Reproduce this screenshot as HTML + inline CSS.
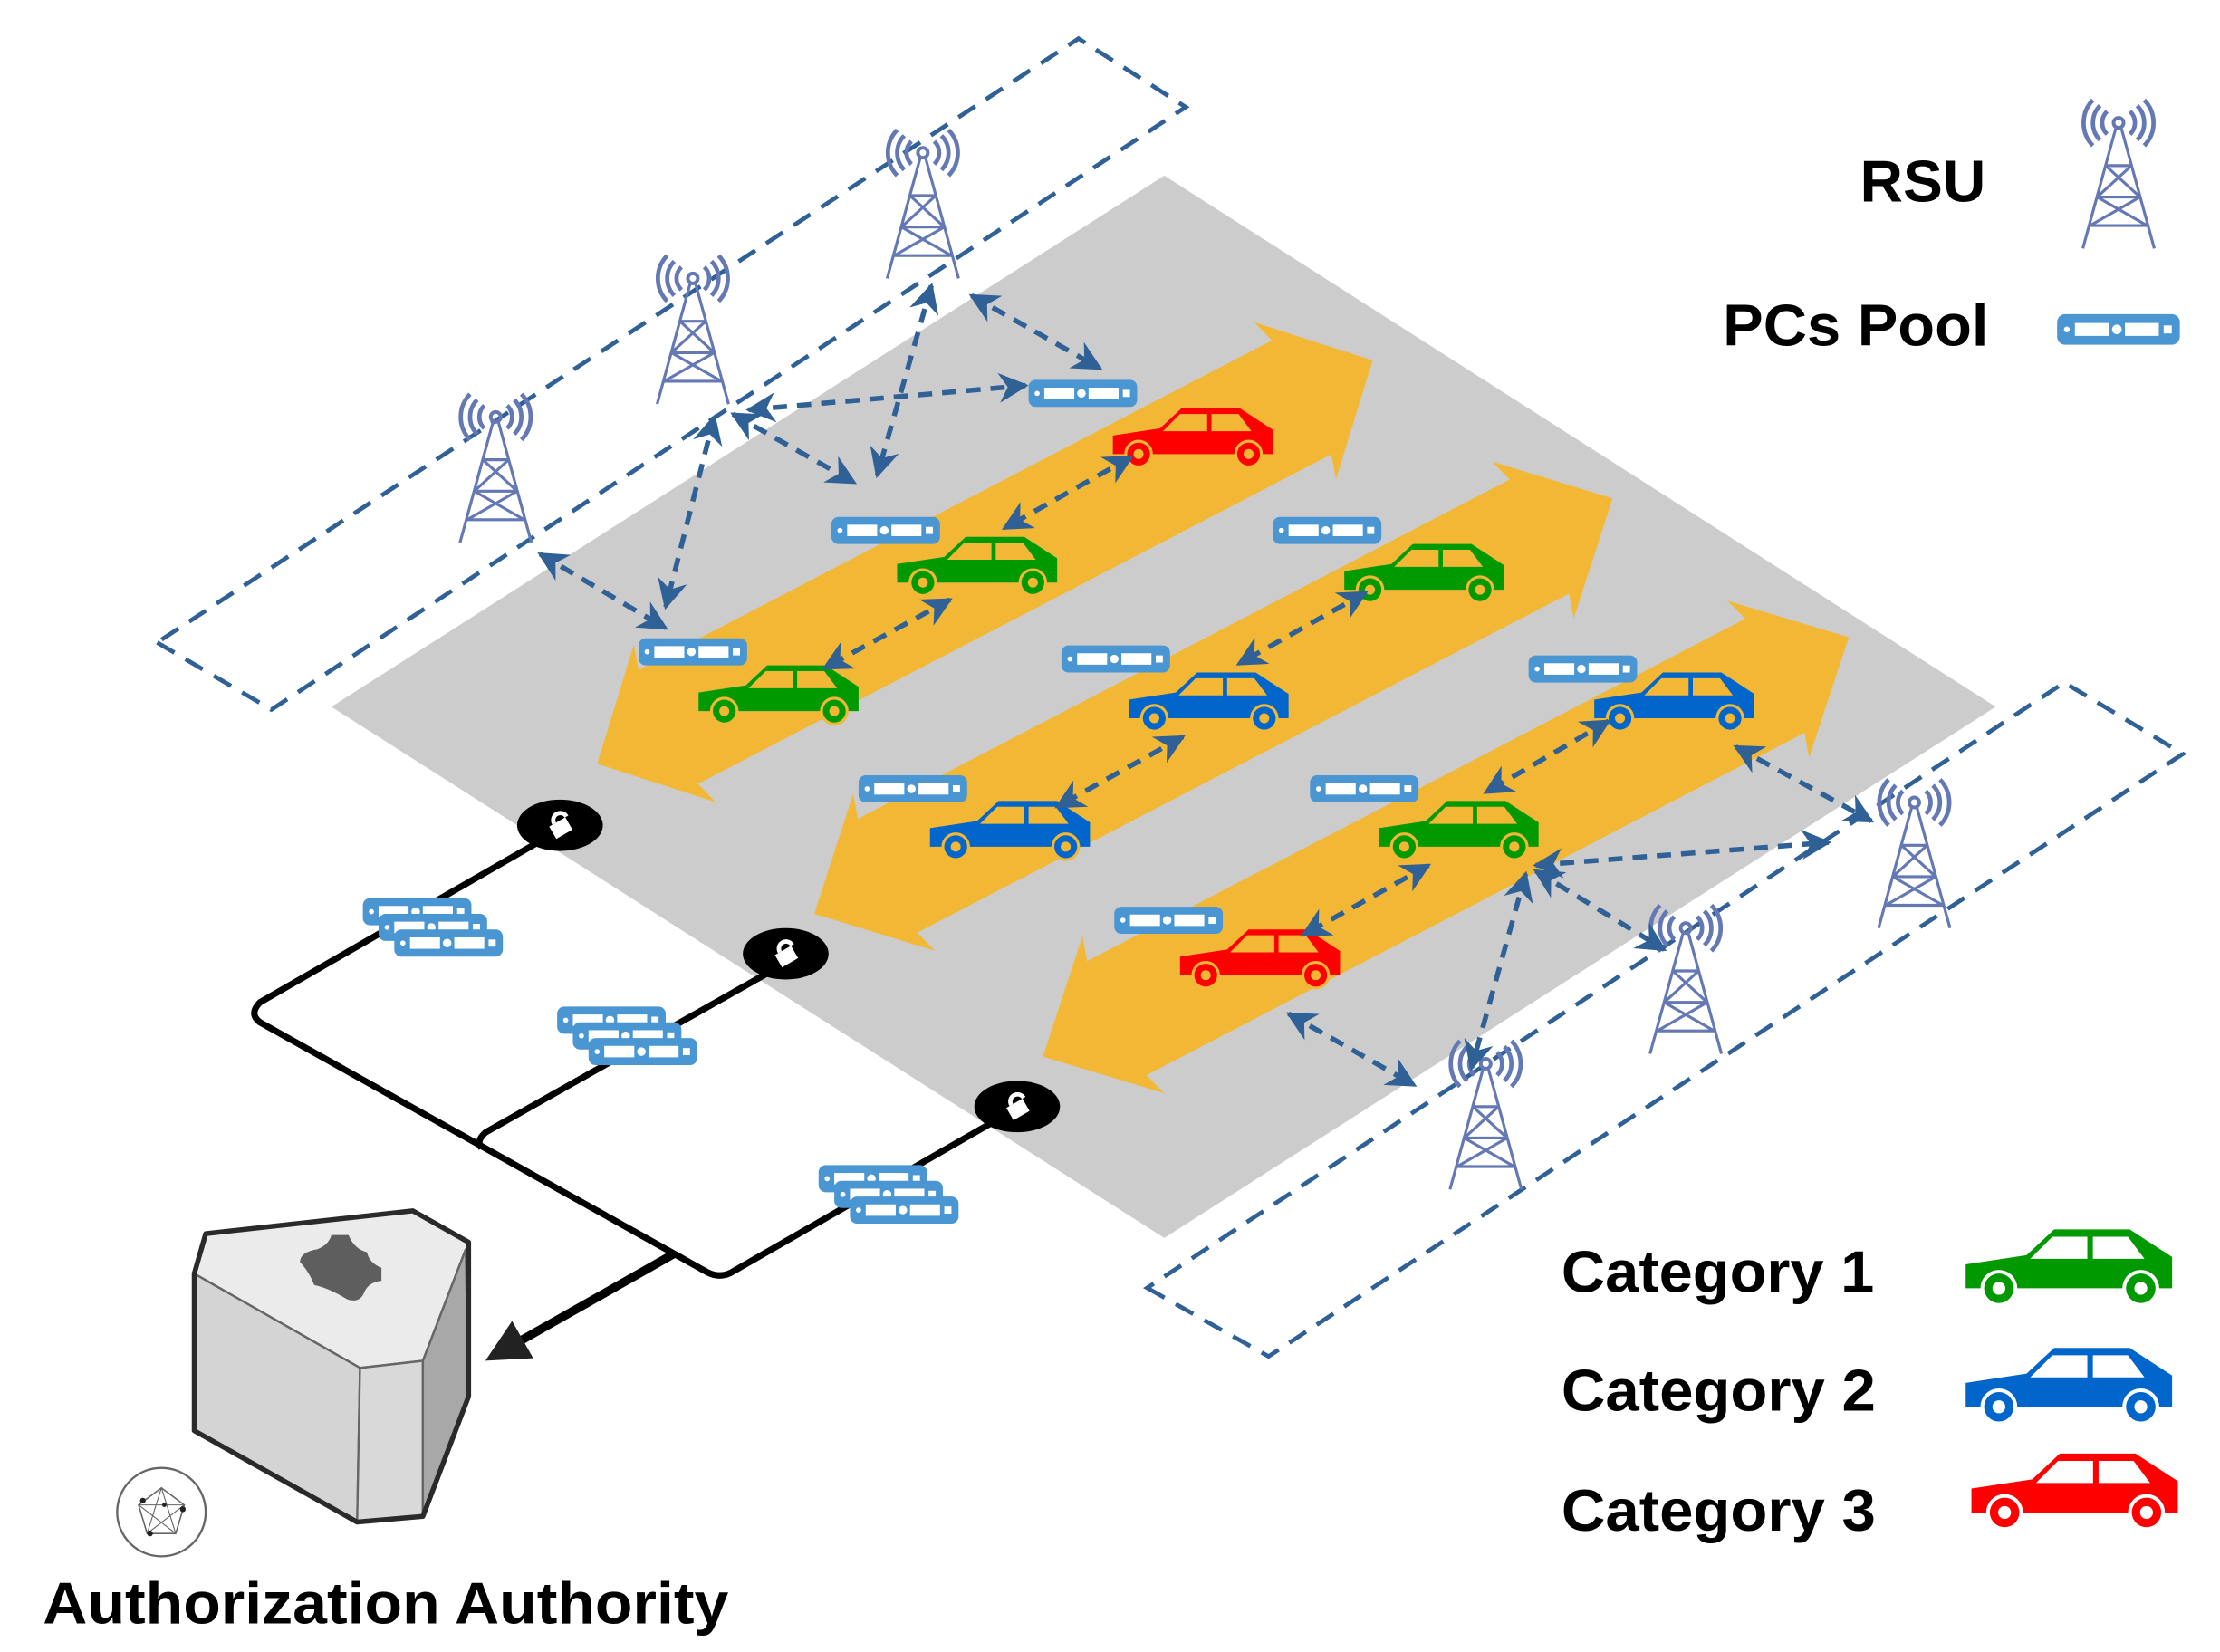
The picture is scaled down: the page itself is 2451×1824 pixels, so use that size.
<!DOCTYPE html>
<html><head><meta charset="utf-8"><style>
html,body{margin:0;padding:0;background:#fff;}
svg{display:block;}
text{font-family:"Liberation Sans",Arial,sans-serif;font-weight:bold;fill:#000;}
</style></head><body>
<svg width="2451" height="1824" viewBox="0 0 1554 1157" preserveAspectRatio="none" xmlns="http://www.w3.org/2000/svg">
<defs>
<marker id="ah" viewBox="0 0 10 10" refX="9" refY="5" markerWidth="6" markerHeight="6" orient="auto-start-reverse" markerUnits="strokeWidth">
<path d="M0,0 L10,5 L0,10 L3,5 Z" fill="#2f6096"/></marker>
<marker id="bh" viewBox="0 0 10 10" refX="8" refY="5" markerWidth="5" markerHeight="5" orient="auto" markerUnits="strokeWidth">
<path d="M0,0 L10,5 L0,10 Z" fill="#222"/></marker>
<g id="tower" stroke="#6478b4" fill="none" stroke-width="2">
<circle cx="0" cy="0" r="3.5" stroke-width="2.5"/>
<path d="M-2,4 L-25,88 M2,4 L25,88 M-9,30 L9,30 M-15,52 L15,52 M-9,30 L15,52 M9,30 L-15,52 M-15,52 L20,72 M15,52 L-20,72 M-20,72 L20,72"/>
<path d="M-8,-8 A11,11 0 0 0 -8,8 M-13,-12 A17,17 0 0 0 -13,12 M-18,-16 A23,23 0 0 0 -18,16 M8,-8 A11,11 0 0 1 8,8 M13,-12 A17,17 0 0 1 13,12 M18,-16 A23,23 0 0 1 18,16" stroke-width="3"/>
</g>
<g id="pc">
<rect x="0" y="0" width="76" height="19" rx="5" fill="#4a96d2"/>
<circle cx="6" cy="9.5" r="1.8" fill="#fff"/>
<rect x="11" y="5.5" width="21" height="8" fill="#fff"/>
<circle cx="37" cy="9.5" r="3" fill="#fff"/>
<rect x="42" y="5.5" width="21" height="8" fill="#fff"/>
<rect x="66" y="7" width="5" height="5" fill="#fff"/>
</g>
<g id="pcs">
<use href="#pc" x="0" y="0"/><use href="#pc" x="11" y="11"/><use href="#pc" x="22" y="22"/>
</g>
<g id="lock">
<ellipse cx="0" cy="0" rx="30" ry="18" fill="#000"/>
<rect x="-7" y="-3" width="13" height="10" fill="#fff" transform="rotate(-30)"/>
<path d="M-3,-3 A5,5 0 0 1 7,-3" stroke="#fff" stroke-width="3" fill="none" transform="rotate(-30)"/>
</g>
<path id="road" d="M0,0 L60,-62 L55,-45 L545,-45 L540,-62 L600,0 L540,62 L545,45 L55,45 L60,62 Z"/>
</defs>

<polygon points="815,123 1397,495 815,867 232,495" fill="#cccccc"/>

<g fill="#f2b835">
<use href="#road" transform="translate(418,535) rotate(-27.5) scale(1.02,1)"/>
<use href="#road" transform="translate(570,640) rotate(-27.5) scale(1.05,1)"/>
<use href="#road" transform="translate(730,740) rotate(-27.5) scale(1.06,1)"/>
</g>

<g fill="none" stroke="#2f6096" stroke-width="3" stroke-dasharray="14 9">
<polygon points="110,450 190,497 830,75 755,27"/>
<polygon points="803,902 888,950 1528,528 1445,478"/>
</g>

<use href="#tower" x="347" y="292"/>
<use href="#tower" x="485" y="195"/>
<use href="#tower" x="646" y="107"/>
<use href="#tower" x="1340" y="562"/>
<use href="#tower" x="1180" y="650"/>
<use href="#tower" x="1040" y="745"/>
<use href="#tower" x="1483" y="86"/>

<use href="#pc" x="720" y="266"/>
<use href="#pc" x="582" y="362"/>
<use href="#pc" x="447" y="447"/>
<use href="#pc" x="891" y="362"/>
<use href="#pc" x="743" y="452"/>
<use href="#pc" x="601" y="543"/>
<use href="#pc" x="1070" y="459"/>
<use href="#pc" x="917" y="543"/>
<use href="#pc" x="780" y="635"/>
<use href="#pc" transform="translate(1440,220) scale(1.13)"/>

<g>
<g transform="translate(779,286)" fill="#ff0000">
<path d="M0,19 L33,14 L48,0 L89,0 L112,15 L112,32 L0,32 Z"/><path d="M35,16 L47,4 L66,4 L66,16 Z M69,4 L88,4 L97,16 L69,16 Z" fill="#f2b835"/>
<circle cx="18" cy="32" r="10" fill="#f2b835"/><circle cx="95" cy="32" r="10" fill="#f2b835"/>
<circle cx="18" cy="32" r="8"/><circle cx="95" cy="32" r="8"/><circle cx="18" cy="32" r="3.5" fill="#f2b835"/><circle cx="95" cy="32" r="3.5" fill="#f2b835"/></g>
<g transform="translate(628,376)" fill="#009900">
<path d="M0,19 L33,14 L48,0 L89,0 L112,15 L112,32 L0,32 Z"/><path d="M35,16 L47,4 L66,4 L66,16 Z M69,4 L88,4 L97,16 L69,16 Z" fill="#f2b835"/>
<circle cx="18" cy="32" r="10" fill="#f2b835"/><circle cx="95" cy="32" r="10" fill="#f2b835"/>
<circle cx="18" cy="32" r="8"/><circle cx="95" cy="32" r="8"/><circle cx="18" cy="32" r="3.5" fill="#f2b835"/><circle cx="95" cy="32" r="3.5" fill="#f2b835"/></g>
<g transform="translate(489,466)" fill="#009900">
<path d="M0,19 L33,14 L48,0 L89,0 L112,15 L112,32 L0,32 Z"/><path d="M35,16 L47,4 L66,4 L66,16 Z M69,4 L88,4 L97,16 L69,16 Z" fill="#f2b835"/>
<circle cx="18" cy="32" r="10" fill="#f2b835"/><circle cx="95" cy="32" r="10" fill="#f2b835"/>
<circle cx="18" cy="32" r="8"/><circle cx="95" cy="32" r="8"/><circle cx="18" cy="32" r="3.5" fill="#f2b835"/><circle cx="95" cy="32" r="3.5" fill="#f2b835"/></g>
<g transform="translate(941,381)" fill="#009900">
<path d="M0,19 L33,14 L48,0 L89,0 L112,15 L112,32 L0,32 Z"/><path d="M35,16 L47,4 L66,4 L66,16 Z M69,4 L88,4 L97,16 L69,16 Z" fill="#f2b835"/>
<circle cx="18" cy="32" r="10" fill="#f2b835"/><circle cx="95" cy="32" r="10" fill="#f2b835"/>
<circle cx="18" cy="32" r="8"/><circle cx="95" cy="32" r="8"/><circle cx="18" cy="32" r="3.5" fill="#f2b835"/><circle cx="95" cy="32" r="3.5" fill="#f2b835"/></g>
<g transform="translate(790,471)" fill="#0066cc">
<path d="M0,19 L33,14 L48,0 L89,0 L112,15 L112,32 L0,32 Z"/><path d="M35,16 L47,4 L66,4 L66,16 Z M69,4 L88,4 L97,16 L69,16 Z" fill="#f2b835"/>
<circle cx="18" cy="32" r="10" fill="#f2b835"/><circle cx="95" cy="32" r="10" fill="#f2b835"/>
<circle cx="18" cy="32" r="8"/><circle cx="95" cy="32" r="8"/><circle cx="18" cy="32" r="3.5" fill="#f2b835"/><circle cx="95" cy="32" r="3.5" fill="#f2b835"/></g>
<g transform="translate(651,561)" fill="#0066cc">
<path d="M0,19 L33,14 L48,0 L89,0 L112,15 L112,32 L0,32 Z"/><path d="M35,16 L47,4 L66,4 L66,16 Z M69,4 L88,4 L97,16 L69,16 Z" fill="#f2b835"/>
<circle cx="18" cy="32" r="10" fill="#f2b835"/><circle cx="95" cy="32" r="10" fill="#f2b835"/>
<circle cx="18" cy="32" r="8"/><circle cx="95" cy="32" r="8"/><circle cx="18" cy="32" r="3.5" fill="#f2b835"/><circle cx="95" cy="32" r="3.5" fill="#f2b835"/></g>
<g transform="translate(1116,471)" fill="#0066cc">
<path d="M0,19 L33,14 L48,0 L89,0 L112,15 L112,32 L0,32 Z"/><path d="M35,16 L47,4 L66,4 L66,16 Z M69,4 L88,4 L97,16 L69,16 Z" fill="#f2b835"/>
<circle cx="18" cy="32" r="10" fill="#f2b835"/><circle cx="95" cy="32" r="10" fill="#f2b835"/>
<circle cx="18" cy="32" r="8"/><circle cx="95" cy="32" r="8"/><circle cx="18" cy="32" r="3.5" fill="#f2b835"/><circle cx="95" cy="32" r="3.5" fill="#f2b835"/></g>
<g transform="translate(965,561)" fill="#009900">
<path d="M0,19 L33,14 L48,0 L89,0 L112,15 L112,32 L0,32 Z"/><path d="M35,16 L47,4 L66,4 L66,16 Z M69,4 L88,4 L97,16 L69,16 Z" fill="#f2b835"/>
<circle cx="18" cy="32" r="10" fill="#f2b835"/><circle cx="95" cy="32" r="10" fill="#f2b835"/>
<circle cx="18" cy="32" r="8"/><circle cx="95" cy="32" r="8"/><circle cx="18" cy="32" r="3.5" fill="#f2b835"/><circle cx="95" cy="32" r="3.5" fill="#f2b835"/></g>
<g transform="translate(826,651)" fill="#ff0000">
<path d="M0,19 L33,14 L48,0 L89,0 L112,15 L112,32 L0,32 Z"/><path d="M35,16 L47,4 L66,4 L66,16 Z M69,4 L88,4 L97,16 L69,16 Z" fill="#f2b835"/>
<circle cx="18" cy="32" r="10" fill="#f2b835"/><circle cx="95" cy="32" r="10" fill="#f2b835"/>
<circle cx="18" cy="32" r="8"/><circle cx="95" cy="32" r="8"/><circle cx="18" cy="32" r="3.5" fill="#f2b835"/><circle cx="95" cy="32" r="3.5" fill="#f2b835"/></g>
</g>

<g transform="translate(1376,861) scale(1.29)" fill="#009900">
<path d="M0,19 L33,14 L48,0 L89,0 L112,15 L112,32 L0,32 Z"/><path d="M35,16 L47,4 L66,4 L66,16 Z M69,4 L88,4 L97,16 L69,16 Z" fill="#fff"/>
<circle cx="18" cy="32" r="10" fill="#fff"/><circle cx="95" cy="32" r="10" fill="#fff"/>
<circle cx="18" cy="32" r="8"/><circle cx="95" cy="32" r="8"/><circle cx="18" cy="32" r="3.5" fill="#fff"/><circle cx="95" cy="32" r="3.5" fill="#fff"/></g>
<g transform="translate(1376,944) scale(1.29)" fill="#0066cc">
<path d="M0,19 L33,14 L48,0 L89,0 L112,15 L112,32 L0,32 Z"/><path d="M35,16 L47,4 L66,4 L66,16 Z M69,4 L88,4 L97,16 L69,16 Z" fill="#fff"/>
<circle cx="18" cy="32" r="10" fill="#fff"/><circle cx="95" cy="32" r="10" fill="#fff"/>
<circle cx="18" cy="32" r="8"/><circle cx="95" cy="32" r="8"/><circle cx="18" cy="32" r="3.5" fill="#fff"/><circle cx="95" cy="32" r="3.5" fill="#fff"/></g>
<g transform="translate(1380,1018) scale(1.29)" fill="#ff0000">
<path d="M0,19 L33,14 L48,0 L89,0 L112,15 L112,32 L0,32 Z"/><path d="M35,16 L47,4 L66,4 L66,16 Z M69,4 L88,4 L97,16 L69,16 Z" fill="#fff"/>
<circle cx="18" cy="32" r="10" fill="#fff"/><circle cx="95" cy="32" r="10" fill="#fff"/>
<circle cx="18" cy="32" r="8"/><circle cx="95" cy="32" r="8"/><circle cx="18" cy="32" r="3.5" fill="#fff"/><circle cx="95" cy="32" r="3.5" fill="#fff"/></g>

<g fill="none" stroke="#2f6096" stroke-width="3.5" stroke-dasharray="10 7" marker-start="url(#ah)" marker-end="url(#ah)">
<line x1="524" y1="287" x2="718" y2="270"/>
<line x1="652" y1="200" x2="614" y2="333"/>
<line x1="680" y1="207" x2="770" y2="258"/>
<line x1="513" y1="290" x2="598" y2="338"/>
<line x1="500" y1="292" x2="466" y2="425"/>
<line x1="378" y1="388" x2="466" y2="440"/>
<line x1="792" y1="320" x2="703" y2="370"/>
<line x1="665" y1="420" x2="577" y2="468"/>
<line x1="956" y1="415" x2="867" y2="465"/>
<line x1="828" y1="516" x2="740" y2="565"/>
<line x1="1126" y1="505" x2="1040" y2="555"/>
<line x1="1000" y1="606" x2="912" y2="655"/>
<line x1="1215" y1="523" x2="1310" y2="575"/>
<line x1="1075" y1="606" x2="1280" y2="590"/>
<line x1="1075" y1="610" x2="1165" y2="665"/>
<line x1="1068" y1="612" x2="1030" y2="748"/>
<line x1="902" y1="710" x2="990" y2="760"/>
</g>

<g fill="none" stroke="#000" stroke-width="4.5" stroke-linejoin="round">
<path d="M380,588 L182,702 Q174,710 182,716 L495,891 Q505,896 514,890 L700,783"/>
<path d="M540,680 L340,793 Q333,799 337,804"/>
</g>
<line x1="472" y1="878" x2="345" y2="950" stroke="#000" stroke-width="6" marker-end="url(#bh)"/>

<use href="#lock" x="392" y="578"/>
<use href="#lock" x="550" y="668"/>
<use href="#lock" x="712" y="775"/>

<use href="#pcs" x="254" y="629"/>
<use href="#pcs" x="390" y="705"/>
<use href="#pcs" x="573" y="816"/>

<g stroke-linejoin="round">
<polygon points="136,892 144,864 289,848 328,870 326,875 296,953 252,958" fill="#ebebeb"/>
<polygon points="136,892 252,958 250,1066 136,1002" fill="#d4d4d4" stroke="#666" stroke-width="1.5"/>
<polygon points="252,958 296,953 296,1062 250,1066" fill="#d9d9d9" stroke="#666" stroke-width="1.5"/>
<polygon points="296,953 326,875 328,978 296,1062" fill="#a8a8a8" stroke="#666" stroke-width="1.5"/>
<path d="M136,892 L252,958 L296,953 L326,875" fill="none" stroke="#666" stroke-width="1.5"/>
<polygon points="144,864 289,848 328,870 328,978 296,1062 250,1066 136,1002 136,892" fill="none" stroke="#2a2a2a" stroke-width="3.5"/>
<path d="M222,875 Q230,872 232,865 L244,865 Q248,875 257,877 Q258,884 267,888 L267,897 Q258,898 255,905 Q252,913 243,910 Q230,902 220,900 Q216,890 210,884 Q210,877 222,875 Z" fill="#5e5e5e"/>
</g>
<g transform="translate(113,1059)" fill="none" stroke="#666">
<circle r="31" stroke-width="1.5"/>
<polygon points="0,-17 16,-5 10,15 -10,15 -16,-5" stroke-width="1"/>
<path d="M0,-17 L10,15 M16,-5 L-10,15 M-16,-5 L16,-5 M-16,-5 L10,15 M0,-17 L-10,15" stroke-width="0.7"/>
<g fill="#222" stroke="none"><circle cx="-13" cy="-8" r="2"/><circle cx="15" cy="-2" r="2"/><circle cx="-8" cy="15" r="2"/><circle cx="2" cy="-5" r="1.5"/></g>
</g>

<text x="1302" y="141" font-size="41" textLength="88" lengthAdjust="spacingAndGlyphs">RSU</text>
<text x="1206" y="242" font-size="41" textLength="186" lengthAdjust="spacingAndGlyphs">PCs Pool</text>
<text x="1093" y="905" font-size="41" textLength="219" lengthAdjust="spacingAndGlyphs">Category 1</text>
<text x="1093" y="988" font-size="41" textLength="220" lengthAdjust="spacingAndGlyphs">Category 2</text>
<text x="1093" y="1072" font-size="41" textLength="220" lengthAdjust="spacingAndGlyphs">Category 3</text>
<text x="30" y="1137" font-size="41" textLength="480" lengthAdjust="spacingAndGlyphs">Authorization Authority</text>
</svg>
</body></html>
